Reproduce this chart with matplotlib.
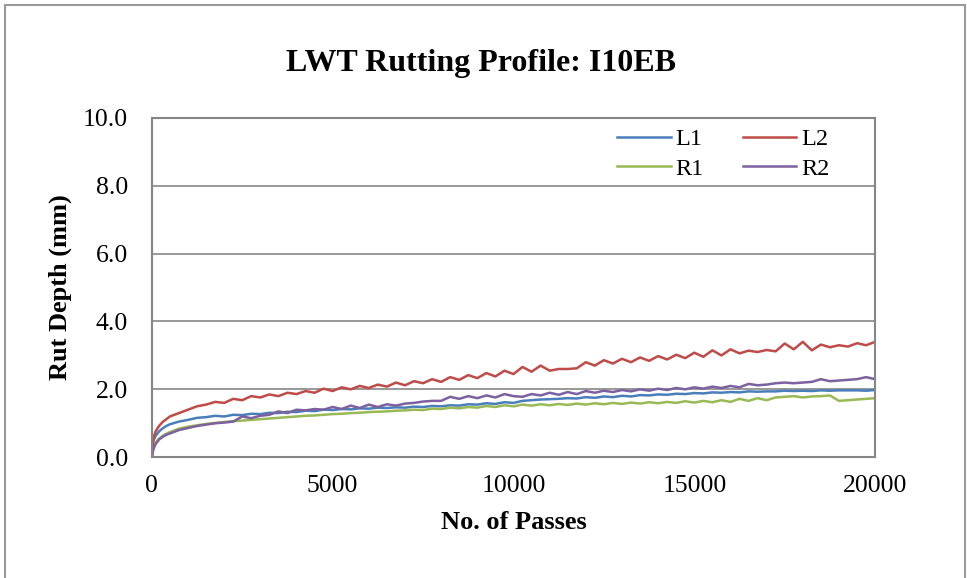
import matplotlib
matplotlib.use("Agg")
import matplotlib.pyplot as plt
from matplotlib.patches import Rectangle

# passes at which the rut depth was logged
passes = [0, 25, 50, 100, 200, 300, 400, 500, 750, 1000,
          1250, 1500, 1750, 2000, 2250, 2500, 2750, 3000, 3250, 3500,
          3750, 4000, 4250, 4500, 4750, 5000, 5250, 5500, 5750, 6000,
          6250, 6500, 6750, 7000, 7250, 7500, 7750, 8000, 8250, 8500,
          8750, 9000, 9250, 9500, 9750, 10000, 10250, 10500, 10750, 11000,
          11250, 11500, 11750, 12000, 12250, 12500, 12750, 13000, 13250, 13500,
          13750, 14000, 14250, 14500, 14750, 15000, 15250, 15500, 15750, 16000,
          16250, 16500, 16750, 17000, 17250, 17500, 17750, 18000, 18250, 18500,
          18750, 19000, 19250, 19500, 19750, 20000]

L1 = [0.00, 0.35, 0.50, 0.62, 0.76, 0.85, 0.92, 0.97, 1.05, 1.10,
      1.16, 1.18, 1.22, 1.20, 1.25, 1.24, 1.28, 1.27, 1.31, 1.30,
      1.34, 1.33, 1.37, 1.36, 1.40, 1.39, 1.42, 1.41, 1.44, 1.43,
      1.46, 1.45, 1.47, 1.46, 1.49, 1.48, 1.51, 1.50, 1.53, 1.52,
      1.56, 1.55, 1.59, 1.57, 1.62, 1.60, 1.66, 1.68, 1.70, 1.71,
      1.72, 1.74, 1.73, 1.77, 1.75, 1.79, 1.77, 1.81, 1.79, 1.83,
      1.82, 1.85, 1.84, 1.87, 1.86, 1.89, 1.88, 1.91, 1.90, 1.92,
      1.91, 1.94, 1.93, 1.94, 1.94, 1.96, 1.95, 1.96, 1.95, 1.97,
      1.96, 1.97, 1.97, 1.97, 1.96, 1.98]

L2 = [0.00, 0.38, 0.58, 0.75, 0.92, 1.04, 1.12, 1.20, 1.30, 1.40,
      1.50, 1.55, 1.63, 1.60, 1.72, 1.68, 1.80, 1.76, 1.85, 1.80,
      1.90, 1.86, 1.95, 1.90, 2.02, 1.95, 2.06, 2.00, 2.10, 2.04,
      2.14, 2.08, 2.20, 2.12, 2.24, 2.18, 2.30, 2.22, 2.36, 2.28,
      2.42, 2.33, 2.48, 2.38, 2.55, 2.45, 2.66, 2.52, 2.70, 2.55,
      2.60, 2.60, 2.62, 2.80, 2.70, 2.86, 2.76, 2.90, 2.80, 2.94,
      2.84, 2.98, 2.88, 3.02, 2.92, 3.08, 2.96, 3.15, 3.00, 3.18,
      3.06, 3.14, 3.10, 3.16, 3.12, 3.35, 3.18, 3.40, 3.15, 3.32,
      3.24, 3.30, 3.26, 3.36, 3.30, 3.40]

R1 = [0.00, 0.20, 0.30, 0.42, 0.55, 0.63, 0.69, 0.74, 0.84, 0.90,
      0.94, 0.98, 1.01, 1.04, 1.06, 1.08, 1.10, 1.12, 1.14, 1.16,
      1.18, 1.20, 1.22, 1.23, 1.25, 1.27, 1.28, 1.30, 1.31, 1.33,
      1.34, 1.35, 1.37, 1.38, 1.40, 1.39, 1.43, 1.42, 1.46, 1.44,
      1.48, 1.46, 1.51, 1.48, 1.53, 1.50, 1.55, 1.52, 1.56, 1.53,
      1.57, 1.54, 1.58, 1.55, 1.59, 1.56, 1.60, 1.57, 1.61, 1.58,
      1.62, 1.59, 1.63, 1.60, 1.65, 1.61, 1.66, 1.62, 1.68, 1.63,
      1.72, 1.66, 1.74, 1.68, 1.76, 1.78, 1.80, 1.76, 1.79, 1.80,
      1.82, 1.66, 1.68, 1.70, 1.72, 1.74]

R2 = [0.00, 0.15, 0.25, 0.38, 0.52, 0.60, 0.66, 0.70, 0.80, 0.86,
      0.92, 0.96, 1.00, 1.02, 1.05, 1.20, 1.15, 1.22, 1.25, 1.35,
      1.30, 1.40, 1.38, 1.42, 1.40, 1.48, 1.42, 1.52, 1.45, 1.55,
      1.48, 1.56, 1.52, 1.58, 1.60, 1.64, 1.66, 1.66, 1.78, 1.72,
      1.80, 1.74, 1.82, 1.76, 1.86, 1.80, 1.78, 1.86, 1.82, 1.90,
      1.84, 1.92, 1.86, 1.95, 1.90, 1.96, 1.92, 1.98, 1.94, 2.00,
      1.96, 2.02, 1.98, 2.04, 2.00, 2.06, 2.02, 2.08, 2.04, 2.10,
      2.06, 2.16, 2.12, 2.14, 2.18, 2.20, 2.18, 2.20, 2.22, 2.30,
      2.24, 2.26, 2.28, 2.30, 2.36, 2.30]

x_ticks = [0, 5000, 10000, 15000, 20000]
y_ticks = [0, 2, 4, 6, 8, 10]

plt.rcParams['font.family'] = ['Liberation Serif', 'DejaVu Serif']

fig = plt.figure(figsize=(9.67, 5.78), dpi=100)
ax = fig.add_axes([0.157, 0.209, 0.748, 0.587])

# outer chart frame like the Excel chart area
fig.patches.append(Rectangle((5 / 967, -0.02), 960 / 967, 1 - 5 / 578 + 0.02,
                             transform=fig.transFigure, fill=False,
                             ec='#9A9A9A', lw=1.5))

ax.plot(passes, L1, color='#4A7EBB', lw=1.8, label='L1')
ax.plot(passes, R1, color='#98B954', lw=1.8, label='R1')
ax.plot(passes, L2, color='#BE4B48', lw=1.8, label='L2')
ax.plot(passes, R2, color='#7D60A0', lw=1.8, label='R2')

ax.set_xlim(0, 20000)
ax.set_ylim(0, 10)
ax.set_xticks(x_ticks)
ax.set_yticks(y_ticks)
ax.set_yticklabels([f'{v:.1f}' for v in y_ticks])
ax.tick_params(axis='both', length=0, labelsize=18.5)
ax.tick_params(axis='y', pad=17)
ax.tick_params(axis='x', pad=13)

ax.grid(True, axis='y', color='#868686', lw=1.2)
ax.set_axisbelow(True)
for s in ax.spines.values():
    s.set_color('#868686')
    s.set_linewidth(1.5)

ax.set_xlabel('No. of Passes', fontsize=19, fontweight='bold', labelpad=10)
ax.set_ylabel('Rut Depth (mm)', fontsize=19, fontweight='bold', labelpad=8)

fig.suptitle('LWT Rutting Profile: I10EB', fontsize=23, fontweight='bold',
             x=0.497, y=0.915)

ax.legend(loc='upper right', bbox_to_anchor=(0.95, 0.998), ncol=2, frameon=False,
          fontsize=17.5, handlelength=2.2, handletextpad=0.2, columnspacing=1.6,
          labelspacing=0.3, borderaxespad=0)

fig.savefig('out.png', dpi=100, facecolor='white')
